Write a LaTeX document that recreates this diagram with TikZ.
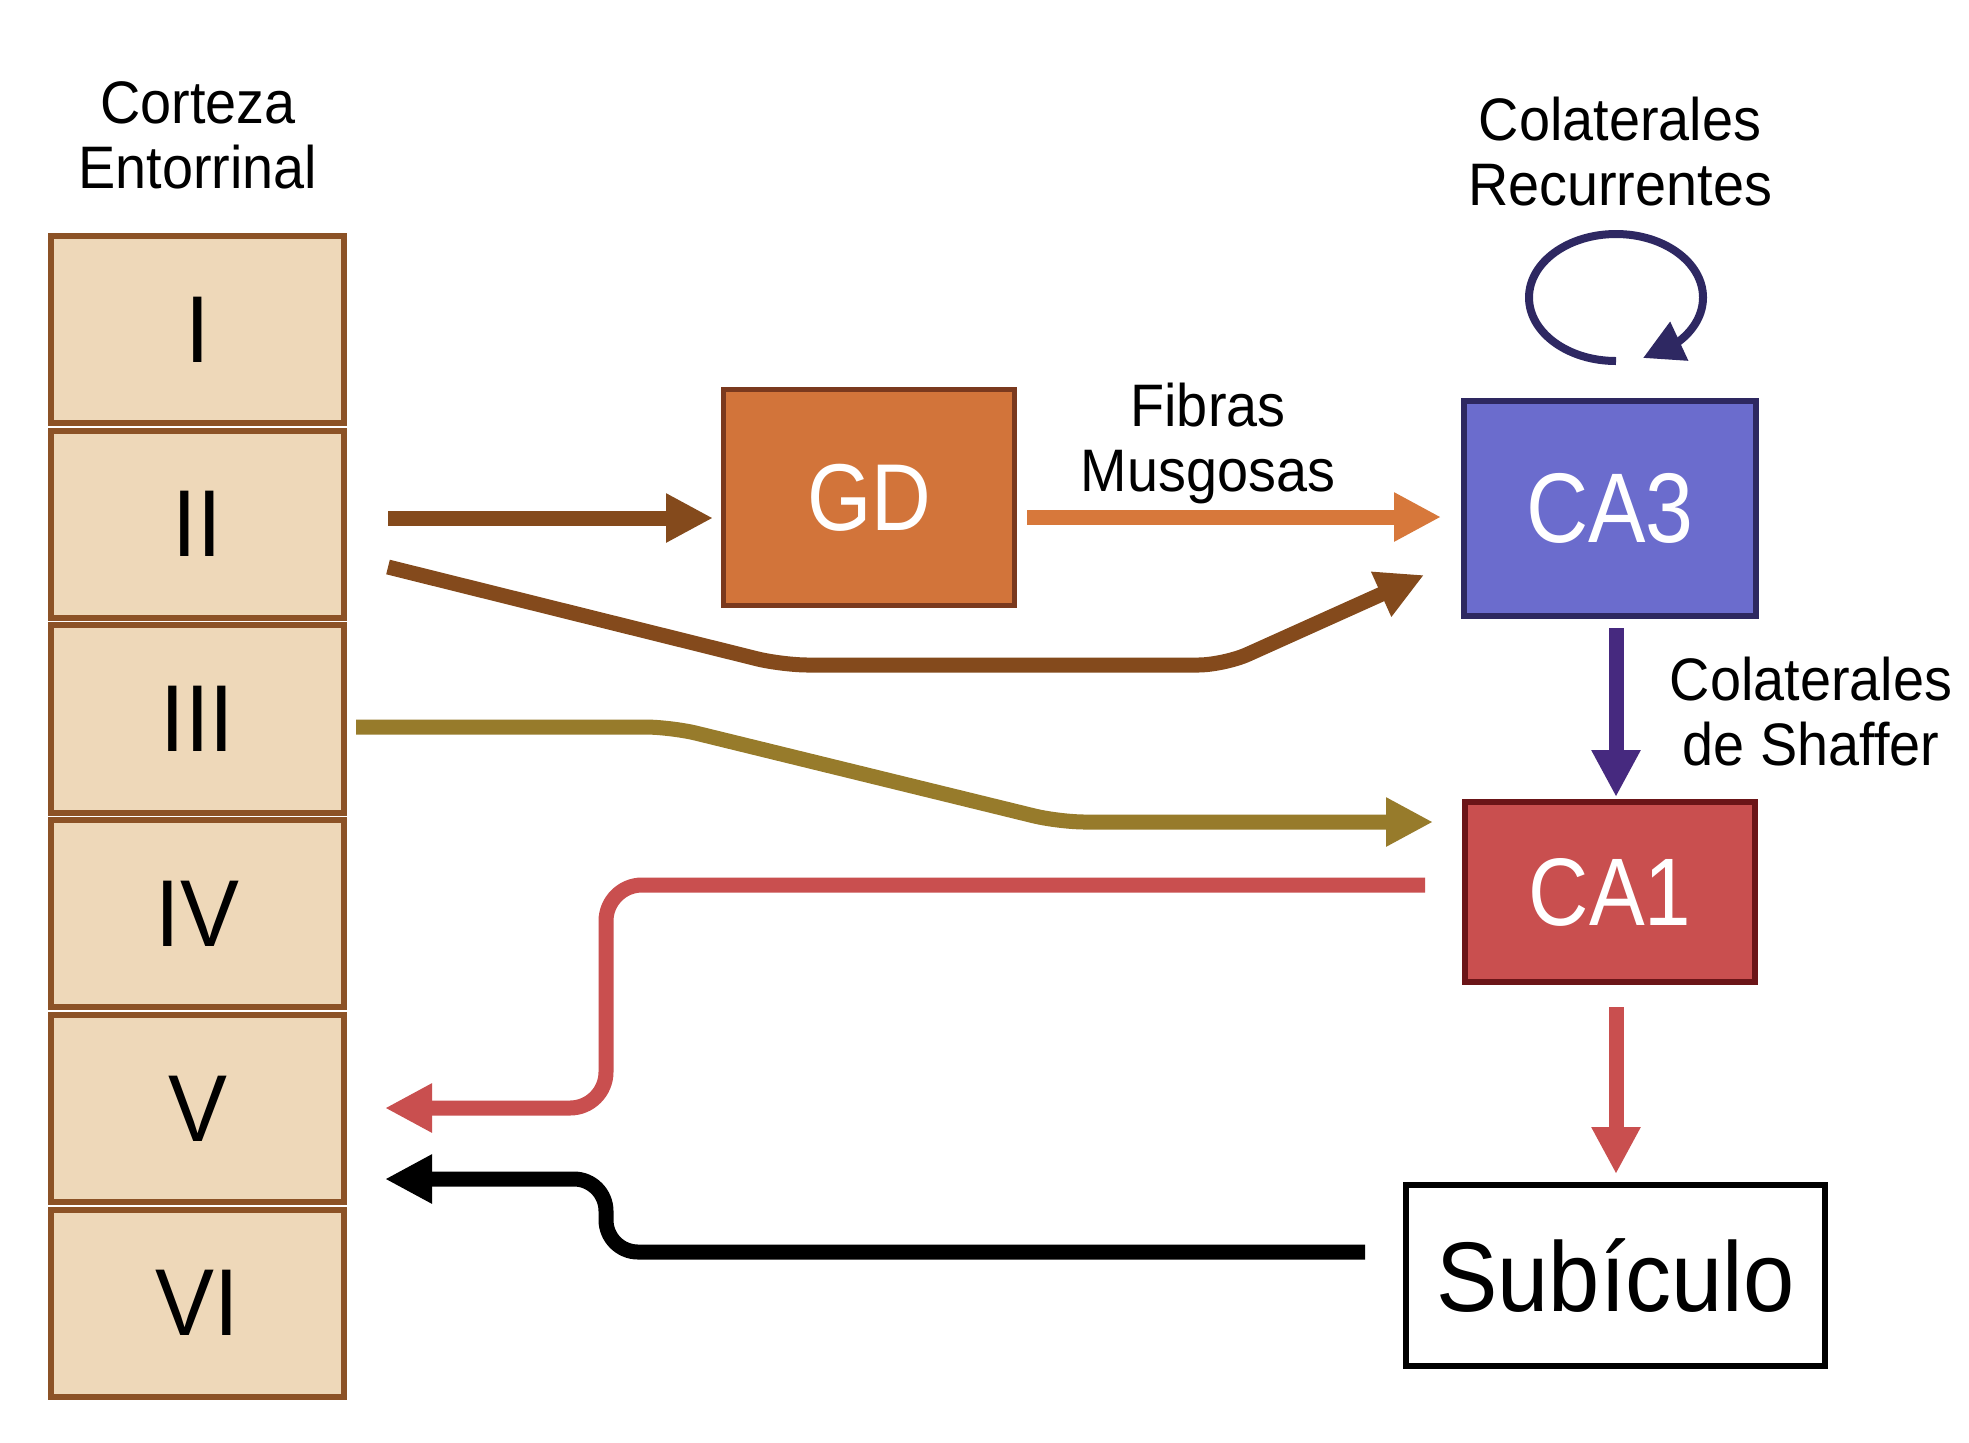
\documentclass[tikz,border=0pt]{standalone}
\usepackage{fontspec}
\setmainfont[FakeStretch=0.93]{Liberation Sans}
\newfontfamily\boxfont[FakeStretch=0.87]{Liberation Sans}
\usetikzlibrary{arrows.meta,calc}
\definecolor{layerfill}{HTML}{EED8B9}
\definecolor{layerdraw}{HTML}{8C5226}
\definecolor{gdfill}{HTML}{D2743A}
\definecolor{gddraw}{HTML}{7A391E}
\definecolor{cathreefill}{HTML}{6B6CCD}
\definecolor{cathreedraw}{HTML}{2E2860}
\definecolor{caonefill}{HTML}{C94F4F}
\definecolor{caonedraw}{HTML}{6B1518}
\definecolor{brownarr}{HTML}{844A1C}
\definecolor{orangearr}{HTML}{D7783B}
\definecolor{olivearr}{HTML}{977B2B}
\definecolor{purplearr}{HTML}{46297F}
\definecolor{loopcol}{HTML}{2E2862}
\definecolor{redarr}{HTML}{C94F4F}
\begin{document}
\begin{tikzpicture}[x=0.5pt,y=-0.5pt,
  layerbox/.style={draw=layerdraw, fill=layerfill, line width=3pt,
    minimum width=146.5pt, minimum height=93.6pt, inner sep=0pt, outer sep=0pt,
    font=\fontsize{47.5pt}{50pt}\selectfont},
  areabox/.style={line width=2.75pt, inner sep=0pt, outer sep=0pt, text=white},
  lbl/.style={align=center, font=\fontsize{30pt}{32.5pt}\selectfont, inner sep=0pt, anchor=base},
  conn/.style={line width=7.5pt, -{Triangle[length=23.5pt,width=23pt]}},
]
\fill[white] (0,0) rectangle (1969,1442);
\useasboundingbox (0,0) rectangle (1969,1442);

% layers of the entorhinal cortex
\foreach \nm/\txt/\yy in {l1/I/329.6, l2/II/524.3, l3/III/719, l4/IV/913.7, l5/V/1108.4, l6/VI/1303.1}
  \node[layerbox] (\nm) at (197.5,\yy) {\txt};

% regions
\node[areabox, draw=gddraw, fill=gdfill, minimum width=145.5pt, minimum height=108pt,
  font=\boxfont\fontsize{47.5pt}{50pt}\selectfont] (gd) at (869,497.5) {GD};
\node[areabox, draw=cathreedraw, fill=cathreefill, minimum width=146pt, minimum height=107.5pt,
  font=\boxfont\fontsize{49.5pt}{52pt}\selectfont] (ca3) at (1610,508.5) {CA3};
\node[areabox, draw=caonedraw, fill=caonefill, minimum width=145pt, minimum height=90pt,
  font=\boxfont\fontsize{48pt}{50pt}\selectfont] (ca1) at (1610,892) {CA1};
\node[areabox, draw=black, fill=white, text=black, minimum width=209.5pt, minimum height=90.5pt,
  font=\fontsize{49.5pt}{52pt}\selectfont] (sub) at (1615.5,1275.5) {Subículo};

% labels (anchor = baseline of the last line)
\node[lbl] (corteza) at (198,188) {Corteza\\Entorrinal};
\node[lbl] (fibras) at (1208,491) {Fibras\\Musgosas};
\node[lbl] (recurr) at (1620,205) {Colaterales\\Recurrentes};
\node[lbl] (shaffer) at (1811,765) {Colaterales\\de Shaffer};

% connectors
\draw[conn, brownarr] ($(l2.east)+(44,-6.3)$) -- ($(gd.west)+(-10.5,20.5)$);
\draw[conn, brownarr, rounded corners=13pt] ($(l2.east)+(44,42.7)$) -- ++(394,98)
  -- ($(ca3.west)+(-240,156.5)$) -- ($(ca3.west)+(-40,66.5)$);
\draw[conn, orangearr] ($(gd.east)+(12.5,19.5)$) -- ($(ca3.west)+(-23,8.5)$);
\draw[conn, olivearr, rounded corners=13pt] ($(l3.east)+(12,8)$) -- ++(315,0)
  -- ($(ca1.west)+(-406,-70)$) -- ($(ca1.west)+(-32,-70)$);
\draw[conn, purplearr] ($(ca3.south)+(6,12)$) -- ($(ca1.north)+(6,-5)$);
\draw[conn, redarr, rounded corners=18pt] ($(ca1.west)+(-40,-7)$) -| ($(l5.east)+(262,-0.4)$)
  -- ($(l5.east)+(41,-0.4)$);
\draw[conn, redarr] ($(ca1.south)+(6,25)$) -- ($(sub.north)+(0.5,-11)$);
\draw[conn, black, rounded corners=16pt] ($(sub.west)+(-41,-23.5)$) -| ($(l5.east)+(262,70.6)$)
  -- ($(l5.east)+(41,70.6)$);

% recurrent collaterals loop
\coordinate (loopc) at ($(ca3.north)+(6,-103.5)$);
\draw[loopcol, line width=4pt, -{Triangle[length=20pt,width=20.5pt]}]
  ($(loopc)+(0,63.5)$) arc[start angle=90, end angle=403.6, x radius=87, y radius=63.5]
  -- ($(loopc)+(27,60.5)$);
\end{tikzpicture}
\end{document}
